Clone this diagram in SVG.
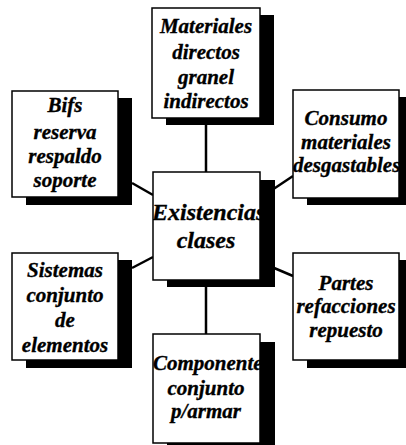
<svg xmlns="http://www.w3.org/2000/svg" width="406" height="445" viewBox="0 0 406 445">
<style>
.sh{fill:#000}
.bx{fill:#fff;stroke:#000;stroke-width:1.5}
.t{font-family:"Liberation Serif","Times New Roman",serif;font-weight:bold;font-style:italic;font-size:21px;fill:#000;stroke:#000;stroke-width:0.35;text-anchor:middle}
.s{text-anchor:start}
.big{font-size:24px}
.c{stroke:#000;stroke-width:2.5;fill:none}
</style>
<defs>
<clipPath id="cc"><rect x="153" y="172" width="108" height="108"/></clipPath>
<clipPath id="cb"><rect x="153" y="334" width="108" height="109"/></clipPath>
<clipPath id="cr"><rect x="293" y="90" width="107" height="108"/></clipPath>
</defs>
<rect width="406" height="445" fill="#fff"/>
<g id="connectors">
<line class="c" x1="206" y1="118" x2="206" y2="172"/>
<line class="c" x1="206" y1="280" x2="206" y2="334"/>
<line class="c" x1="132" y1="183" x2="153" y2="195"/>
<line class="c" x1="272" y1="190" x2="293" y2="176"/>
<line class="c" x1="132" y1="268" x2="153" y2="257"/>
<line class="c" x1="260" y1="262" x2="293" y2="276"/>
</g>
<g id="materiales">
<rect class="sh" x="166" y="15" width="108" height="110"/>
<rect class="bx" x="152" y="8" width="108" height="110"/>
<text class="t" x="206" y="33">Materiales</text>
<text class="t" x="206" y="59">directos</text>
<text class="t" x="206" y="84">granel</text>
<text class="t" x="206" y="108">indirectos</text>
</g>
<g id="bifs">
<rect class="sh" x="26" y="98" width="106" height="107"/>
<rect class="bx" x="12" y="91" width="106" height="106"/>
<text class="t" x="65" y="112">Bifs</text>
<text class="t" x="65" y="139">reserva</text>
<text class="t" x="65" y="163">respaldo</text>
<text class="t" x="65" y="187">soporte</text>
</g>
<g id="consumo">
<rect class="sh" x="307" y="97" width="106" height="108"/>
<rect class="bx" x="293" y="90" width="106" height="108"/>
<text class="t" x="346" y="125">Consumo</text>
<text class="t" x="346" y="149">materiales</text>
<text class="t s" x="293" y="172" clip-path="url(#cr)">desgastables</text>
</g>
<g id="existencias">
<rect class="sh" x="167" y="180" width="108" height="107"/>
<rect class="bx" x="153" y="172" width="107" height="108"/>
<text class="t s big" x="152" y="220" clip-path="url(#cc)">Existencias</text>
<text class="t big" x="206" y="248">clases</text>
</g>
<g id="sistemas">
<rect class="sh" x="26" y="260" width="106" height="108"/>
<rect class="bx" x="12" y="253" width="106" height="107"/>
<text class="t" x="65" y="277">Sistemas</text>
<text class="t" x="65" y="302">conjunto</text>
<text class="t" x="65" y="327">de</text>
<text class="t" x="65" y="352">elementos</text>
</g>
<g id="partes">
<rect class="sh" x="307" y="260" width="106" height="108"/>
<rect class="bx" x="293" y="253" width="106" height="107"/>
<text class="t" x="346" y="290">Partes</text>
<text class="t" x="346" y="313">refacciones</text>
<text class="t" x="346" y="337">repuesto</text>
</g>
<g id="componentes">
<rect class="sh" x="167" y="342" width="108" height="110"/>
<rect class="bx" x="153" y="334" width="107" height="109"/>
<text class="t s" x="153" y="370" clip-path="url(#cb)">Componentes</text>
<text class="t" x="206" y="395">conjunto</text>
<text class="t" x="206" y="418">p/armar</text>
</g>
</svg>
